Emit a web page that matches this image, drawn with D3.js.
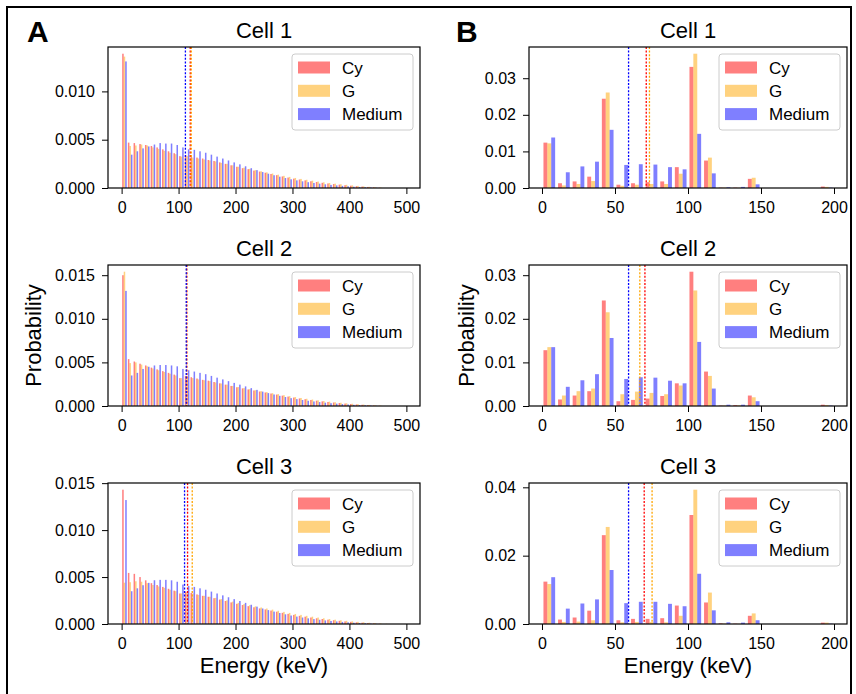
<!DOCTYPE html>
<html><head><meta charset="utf-8">
<script src="https://cdn.jsdelivr.net/npm/d3@7"></script>
<style>
body{margin:0;background:#fff}
svg text{font-family:"Liberation Sans",Arial,sans-serif;fill:#000}
</style>
</head><body>
<svg id="chart" width="856" height="694"></svg>
<script>
// ---------------- DATA ----------------
const cellNames = ["Cell 1", "Cell 2", "Cell 3"];
const seriesNames = ["Cy", "G", "Medium"];
const seriesColors = ["#ff0000", "#ffa500", "#0000ff"];

// Panel A: 10 keV bins from 0 to 500 keV (bin start values)
const binStartsA = d3.range(0, 500, 10);
// Panel B: 10 keV bins from 0 to 200 keV
const binStartsB = d3.range(0, 200, 10);

// Panel A values (probability x 1e-3)
const A1_Cy = [13.9,4.7,4.65,4.55,4.45,4.35,4.2,4.0,3.8,3.6,3.3,3.4,3.25,3.15,3.05,2.9,2.8,2.65,2.5,2.35,2.2,2.05,1.95,1.8,1.7,1.58,1.45,1.33,1.2,1.08,0.97,0.88,0.79,0.7,0.62,0.54,0.47,0.41,0.35,0.29,0.24,0.19,0.15,0.11,0.07,0.03,0,0,0,0];
const A1_G = [13.6,4.35,4.4,4.5,4.4,4.2,4.05,3.85,3.65,3.5,3.25,3.3,3.15,3.05,2.95,2.85,2.75,2.6,2.5,2.35,2.2,2.1,1.98,1.85,1.73,1.62,1.5,1.38,1.26,1.15,1.04,0.94,0.85,0.76,0.67,0.59,0.52,0.45,0.39,0.33,0.27,0.22,0.17,0.12,0.08,0.04,0,0,0,0];
const A1_Medium = [13.1,3.45,3.8,4.1,4.3,4.5,4.65,4.6,4.6,4.45,4.2,4.0,3.95,3.8,3.65,3.45,3.25,3.05,2.85,2.65,2.45,2.25,2.05,1.85,1.65,1.48,1.32,1.17,1.03,0.9,0.79,0.69,0.6,0.52,0.45,0.38,0.32,0.27,0.22,0.18,0.14,0.11,0.08,0.05,0.03,0,0,0,0,0];

const A2_Cy = [15.0,5.38,5.1,4.85,4.65,4.4,4.2,4.0,3.8,3.6,3.2,3.45,3.3,3.15,3.0,2.9,2.75,2.6,2.45,2.3,2.15,2.02,1.9,1.78,1.66,1.55,1.43,1.31,1.19,1.08,0.97,0.87,0.78,0.69,0.61,0.53,0.46,0.4,0.34,0.28,0.23,0.18,0.14,0.1,0.06,0.03,0,0,0,0];
const A2_G = [15.4,4.92,5.0,4.75,4.55,4.3,4.1,3.9,3.7,3.5,3.2,3.4,3.2,3.05,2.95,2.85,2.7,2.58,2.45,2.3,2.17,2.05,1.93,1.81,1.7,1.59,1.47,1.36,1.24,1.13,1.02,0.92,0.83,0.74,0.65,0.57,0.5,0.43,0.37,0.31,0.26,0.21,0.16,0.12,0.08,0.04,0,0,0,0];
const A2_Medium = [13.2,3.5,3.8,4.25,4.5,4.65,4.7,4.7,4.65,4.55,4.25,4.1,3.95,3.8,3.65,3.45,3.25,3.05,2.85,2.65,2.45,2.25,2.05,1.85,1.65,1.48,1.32,1.17,1.03,0.9,0.79,0.69,0.6,0.52,0.45,0.38,0.32,0.27,0.22,0.18,0.14,0.11,0.08,0.05,0.03,0,0,0,0,0];

const A3_Cy = [14.3,5.44,5.34,5.0,4.65,4.35,4.15,3.95,3.75,3.55,3.25,3.45,3.3,3.15,3.0,2.9,2.75,2.6,2.45,2.3,2.15,2.02,1.9,1.78,1.66,1.55,1.43,1.31,1.19,1.08,0.97,0.87,0.78,0.69,0.61,0.53,0.46,0.4,0.34,0.28,0.23,0.18,0.14,0.1,0.06,0.03,0,0,0,0];
const A3_G = [4.4,4.45,4.55,4.5,4.35,4.15,4.0,3.85,3.65,3.5,3.25,3.4,3.25,3.1,3.0,2.9,2.78,2.65,2.52,2.38,2.25,2.12,2.0,1.88,1.76,1.65,1.53,1.41,1.29,1.18,1.07,0.97,0.87,0.78,0.69,0.61,0.53,0.46,0.4,0.34,0.28,0.23,0.18,0.13,0.09,0.05,0.02,0,0,0];
const A3_Medium = [13.2,3.49,3.8,4.13,4.38,4.66,4.7,4.7,4.65,4.5,4.2,4.05,3.95,3.8,3.65,3.45,3.25,3.05,2.85,2.65,2.45,2.25,2.05,1.85,1.65,1.48,1.32,1.17,1.03,0.9,0.79,0.69,0.6,0.52,0.45,0.38,0.32,0.27,0.22,0.18,0.14,0.11,0.08,0.05,0.03,0,0,0,0,0];

// Panel B values (probability x 1e-3)
const B1_Cy = [12.4,1.3,1.8,3.1,24.4,0.9,1.3,1.6,1.8,5.7,33.1,7.5,0.1,0.1,2.5,0,0,0,0,0.4];
const B1_G = [12.2,0.7,1.1,1.9,26.1,0.6,0.9,1.1,1.1,3.9,36.7,8.3,0.1,0.05,2.8,0,0,0,0,0.3];
const B1_Medium = [13.8,4.3,5.9,7.2,15.9,6.3,6.5,6.4,5.7,5.1,14.8,4.0,0.2,0.3,1.0,0,0,0,0,0.1];

const B2_Cy = [12.8,1.5,2.4,3.4,24.2,1.1,1.4,1.7,2.3,5.2,30.8,7.9,0.1,0.2,2.4,0,0,0,0,0.3];
const B2_G = [13.5,2.4,3.4,4.0,21.5,2.7,3.3,3.0,2.7,4.7,26.5,6.9,0.1,0.15,2.0,0,0,0,0,0.2];
const B2_Medium = [13.5,4.4,5.9,7.3,15.6,6.2,6.6,6.5,5.8,5.2,14.7,4.0,0.3,0.3,1.1,0,0,0,0,0.1];

const B3_Cy = [12.4,1.3,1.9,3.9,26.0,1.1,1.5,1.5,1.7,5.4,31.9,6.3,0.2,0.1,2.4,0,0,0,0,0.4];
const B3_G = [11.7,0.6,0.7,1.1,28.4,0.5,0.6,0.6,0.5,2.4,39.3,9.2,0.1,0.05,3.1,0,0,0,0,0.4];
const B3_Medium = [13.7,4.5,6.0,7.2,15.8,6.1,6.5,6.5,5.9,5.2,14.7,4.0,0.5,0.4,1.1,0,0,0,0,0.1];

// Mean energies (keV) drawn as dotted lines: [Cy, G, Medium]
const meansA = [[120.5, 122.3, 112.0], [114.5, 114.0, 113.5], [115.8, 124.0, 110.5]];
const meansB = [[71.4, 73.6, 59.3], [70.5, 67.0, 59.3], [70.0, 75.4, 59.3]];

// Tick values
const yTicksA = [[0, 0.005, 0.010], [0, 0.005, 0.010, 0.015], [0, 0.005, 0.010, 0.015]];
const yTicksB = [[0, 0.01, 0.02, 0.03], [0, 0.01, 0.02, 0.03], [0, 0.02, 0.04]];
const xTicksA = [0, 100, 200, 300, 400, 500];
const xTicksB = [0, 50, 100, 150, 200];

const dataA = [[A1_Cy, A1_G, A1_Medium], [A2_Cy, A2_G, A2_Medium], [A3_Cy, A3_G, A3_Medium]];
const dataB = [[B1_Cy, B1_G, B1_Medium], [B2_Cy, B2_G, B2_Medium], [B3_Cy, B3_G, B3_Medium]];
const UNIT = 1e-3;

// ---------------- LAYOUT ----------------
const svg = d3.select("#chart");
const BIN_W = 10, DR = 0.8;
const rowTops = [47, 265, 483];
const axH = 141;
const panels = [
  { key: "A", left: 108, right: 420, bins: binStartsA, data: dataA, means: meansA, yTicks: yTicksA, xTicks: xTicksA, fmt: d3.format(".3f"), labelX: 27, ylabX: 33 },
  { key: "B", left: 529, right: 847, bins: binStartsB, data: dataB, means: meansB, yTicks: yTicksB, xTicks: xTicksB, fmt: d3.format(".2f"), labelX: 456, ylabX: 466 }
];

// frame
svg.append("rect").attr("x", 7).attr("y", 7).attr("width", 844).attr("height", 690)
  .attr("fill", "none").attr("stroke", "#000").attr("stroke-width", 2);

panels.forEach(p => {
  const nb = p.bins.length;
  const xmin = p.bins[0] + (1 - DR) * BIN_W / 2;
  const xmax = p.bins[nb - 1] + BIN_W - (1 - DR) * BIN_W / 2;
  const pad = 0.05 * (xmax - xmin);
  const x = d3.scaleLinear().domain([xmin - pad, xmax + pad]).range([p.left, p.right]);
  const dw = DR * BIN_W / 3;

  // panel letter
  svg.append("text").attr("x", p.labelX).attr("y", 42).text(p.key)
    .style("font-size", "30px").style("font-weight", "bold");

  rowTops.forEach((top, r) => {
    const bottom = top + axH;
    const series = p.data[r];
    const ymax = d3.max(series, s => d3.max(s)) * UNIT * 1.05;
    const y = d3.scaleLinear().domain([0, ymax]).range([bottom, top]);
    const g = svg.append("g");

    // bars
    series.forEach((vals, si) => {
      g.selectAll(null).data(vals.map((v, i) => ({ v: v * UNIT, b: p.bins[i] })))
        .join("rect")
        .attr("x", d => x(d.b + BIN_W / 2 + (si - 1) * dw - dw / 2))
        .attr("width", d => x(d.b + dw) - x(d.b))
        .attr("y", d => y(d.v))
        .attr("height", d => y(0) - y(d.v))
        .attr("fill", seriesColors[si]).attr("fill-opacity", 0.5);
    });

    // mean lines
    p.means[r].forEach((m, si) => {
      g.append("line").attr("x1", x(m)).attr("x2", x(m)).attr("y1", top).attr("y2", bottom)
        .attr("stroke", seriesColors[si]).attr("stroke-width", 1.3)
        .attr("stroke-dasharray", "2,1.6");
    });

    // axes
    const yAxis = d3.axisLeft(y).tickValues(p.yTicks[r]).tickFormat(p.fmt).tickSize(6).tickPadding(7);
    const ya = svg.append("g").attr("transform", `translate(${p.left},0)`).call(yAxis);
    const xAxis = d3.axisBottom(x).tickValues(p.xTicks).tickFormat(d3.format("d")).tickSize(6).tickPadding(8);
    const xa = svg.append("g").attr("transform", `translate(0,${bottom})`).call(xAxis);
    [ya, xa].forEach(a => {
      a.select(".domain").remove();
      a.selectAll("text").style("font-size", "16px").style("font-family", "'Liberation Sans', Arial, sans-serif").attr("fill", "#000");
      a.selectAll("line").attr("stroke", "#000").attr("stroke-width", 1);
    });

    // spines
    svg.append("rect").attr("x", p.left).attr("y", top).attr("width", p.right - p.left).attr("height", axH)
      .attr("fill", "none").attr("stroke", "#000").attr("stroke-width", 1.2);

    // title
    svg.append("text").attr("x", (p.left + p.right) / 2).attr("y", top - 9)
      .attr("text-anchor", "middle").style("font-size", "22px").text(cellNames[r]);

    // legend
    const lw = 121, lh = 76;
    const lx = p.right - 7 - lw, ly = top + 7;
    const leg = svg.append("g").attr("transform", `translate(${lx},${ly})`);
    leg.append("rect").attr("width", lw).attr("height", lh).attr("rx", 3)
      .attr("fill", "#fff").attr("fill-opacity", 0.8).attr("stroke", "#ccc").attr("stroke-width", 1);
    seriesNames.forEach((n, si) => {
      const cy = 13.5 + si * 23.3;
      leg.append("rect").attr("x", 6).attr("y", cy - 6).attr("width", 32).attr("height", 12)
        .attr("fill", seriesColors[si]).attr("fill-opacity", 0.5);
      leg.append("text").attr("x", 50).attr("y", cy + 6).style("font-size", "17px").text(n);
    });
  });

  // y label
  svg.append("text").attr("transform", `translate(${p.ylabX},${(rowTops[1] + axH / 2)}) rotate(-90)`)
    .attr("text-anchor", "middle").attr("dy", "0.35em").style("font-size", "22px").text("Probability");
  // x label
  svg.append("text").attr("x", (p.left + p.right) / 2).attr("y", 673)
    .attr("text-anchor", "middle").style("font-size", "22px").text("Energy (keV)");
});
</script>
</body></html>
